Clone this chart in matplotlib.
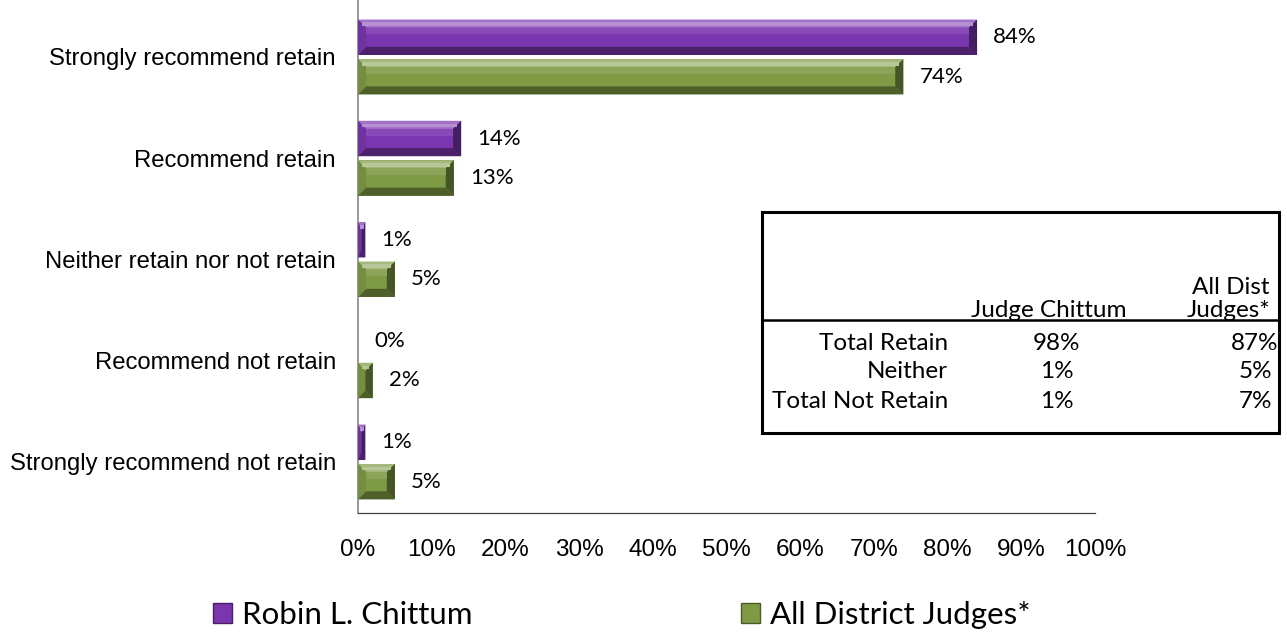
import numpy as np
import matplotlib
matplotlib.use("Agg")
import matplotlib.pyplot as plt
from matplotlib.patches import Polygon, Rectangle, Patch
from matplotlib.colors import to_rgb

categories = ["Strongly recommend retain", "Recommend retain",
              "Neither retain nor not retain", "Recommend not retain",
              "Strongly recommend not retain"]
judge = [84, 14, 1, 0, 1]
district = [74, 13, 5, 2, 5]
series_names = ["Robin L. Chittum", "All District Judges*"]
ticks = list(range(0, 101, 10))

tbl_rows = ["Total Retain", "Neither", "Total Not Retain"]
tbl_judge = ["98%", "1%", "1%"]
tbl_dist = ["87%", "5%", "7%"]

PURPLE = "#7A36AE"
GREEN = "#7E9A44"


def shade(c, f):
    r = np.array(to_rgb(c))
    return tuple(np.clip(r + (1 - r) * f, 0, 1)) if f > 0 else tuple(r * (1 + f))


def bevel(ax, bars, col, bx=1.1, by=0.08):
    for b in bars:
        x0, y0, w, h = b.get_x(), b.get_y(), b.get_width(), b.get_height()
        if w <= 0:
            continue
        x1, y1 = x0 + w, y0 + h
        dx = min(bx, w / 2); dy = min(by, h / 2)
        # y axis inverted: y0 is the visual top
        polys = [
            ([(x0, y0), (x1, y0), (x1 - dx, y0 + dy), (x0 + dx, y0 + dy)], shade(col, 0.3)),
            ([(x0, y1), (x1, y1), (x1 - dx, y1 - dy), (x0 + dx, y1 - dy)], shade(col, -0.38)),
            ([(x0, y0), (x0 + dx, y0 + dy), (x0 + dx, y1 - dy), (x0, y1)], shade(col, -0.08)),
            ([(x1, y0), (x1 - dx, y0 + dy), (x1 - dx, y1 - dy), (x1, y1)], shade(col, -0.45)),
        ]
        for pts, c in polys:
            ax.add_patch(Polygon(pts, closed=True, facecolor=c, edgecolor="none", zorder=3))
        # highlight stripe along the top edge
        ax.add_patch(Rectangle((x0 + dx * 0.5, y0 + dy * 0.35), max(w - dx, 0), dy * 0.45,
                               facecolor=shade(col, 0.45), edgecolor="none", zorder=3))
        ax.add_patch(Rectangle((x0 + dx, y0 + dy), max(w - 2 * dx, 0), (h - 2 * dy) * 0.35,
                               facecolor=shade(col, 0.1), edgecolor="none", zorder=3))


fig = plt.figure(figsize=(12.87, 6.39), dpi=100)
ax = fig.add_axes([358 / 1287, 1 - 513 / 639, 737 / 1287, 513 / 639])

y = np.arange(len(categories))
h = 0.35
b1 = ax.barh(y - 0.195, judge, height=h, color=PURPLE, zorder=2)
b2 = ax.barh(y + 0.195, district, height=h, color=GREEN, zorder=2)
bevel(ax, b1, PURPLE)
bevel(ax, b2, GREEN)

for bars, vals in ((b1, judge), (b2, district)):
    for b, v in zip(bars, vals):
        ax.annotate(f"{v}%", (b.get_width(), b.get_y() + b.get_height() / 2),
                    xytext=(11.5, 0), textcoords="offset points", va="center", ha="left",
                    fontsize=16, family="Lato", zorder=4)

ax.set_xlim(0, 100)
ax.set_ylim(4.504, -0.563)
ax.set_yticks(y)
ax.set_yticklabels(categories, fontsize=17.2, family="Liberation Sans")
ax.set_xticks(ticks)
ax.set_xticklabels([f"{t}%" for t in ticks], fontsize=17.5, family="Liberation Sans")
ax.tick_params(axis="both", length=0)
ax.tick_params(axis="y", pad=16)
ax.tick_params(axis="x", pad=19)
for s in ("top", "right"):
    ax.spines[s].set_visible(False)
ax.spines["left"].set_color("#868686")
ax.spines["left"].set_linewidth(1.2)
ax.spines["bottom"].set_color("#404040")
ax.spines["bottom"].set_linewidth(0.9)

# summary table
W, H = 1287, 639
fx = lambda px: px / W
fy = lambda py: 1 - py / H
fig.patches.append(Rectangle((fx(762), fy(433)), fx(1279) - fx(762), fy(212) - fy(433),
                             transform=fig.transFigure, fill=False, lw=2.2, ec="black", zorder=5))
fig.add_artist(plt.Line2D([fx(762), fx(1279)], [fy(320), fy(320)], transform=fig.transFigure,
                          color="black", lw=1.8))
tf = dict(fontsize=17.5, family="Lato")
fig.text(fx(1049), fy(311), "Judge Chittum", ha="center", va="center", **tf)
fig.text(fx(1270), fy(287), "All Dist", ha="right", va="center", **tf)
fig.text(fx(1270), fy(311), "Judges*", ha="right", va="center", **tf)
for i, (r, a, d) in enumerate(zip(tbl_rows, tbl_judge, tbl_dist)):
    yy = fy(343 + i * 29)
    fig.text(fx(948), yy, r, ha="right", va="center", **tf)
    fig.text(fx(1057), yy, a, ha="center", va="center", **tf)
    fig.text(fx(1255), yy, d, ha="center", va="center", **tf)

handles = [Patch(facecolor=PURPLE, edgecolor=shade(PURPLE, -0.4)),
           Patch(facecolor=GREEN, edgecolor=shade(GREEN, -0.4))]
fig.legend(handles, series_names, loc="center", bbox_to_anchor=(0.483, 0.037),
           ncol=2, frameon=False, prop=dict(family="Lato", size=22.5),
           handlelength=0.62, handleheight=0.62, handletextpad=0.3, columnspacing=8.6)

fig.savefig("out.png", dpi=100)
